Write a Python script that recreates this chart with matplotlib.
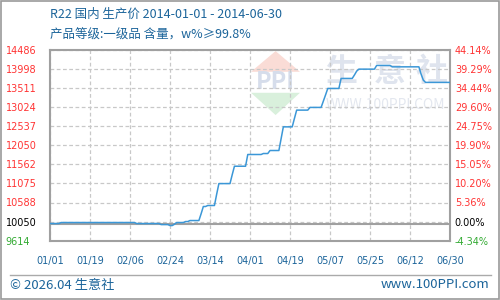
import matplotlib
matplotlib.use("Agg")
import matplotlib.pyplot as plt
import matplotlib.dates as mdates
import numpy as np
from matplotlib.patches import Polygon, Rectangle
from matplotlib.lines import Line2D

# ---------------- data ----------------
dates = ["2014-01-01", "2014-01-05", "2014-01-06", "2014-02-08", "2014-02-09",
         "2014-02-19", "2014-02-20", "2014-02-23", "2014-02-24", "2014-02-25",
         "2014-02-26", "2014-02-27", "2014-03-02", "2014-03-03", "2014-03-04",
         "2014-03-05", "2014-03-09", "2014-03-10", "2014-03-11", "2014-03-12",
         "2014-03-13", "2014-03-16", "2014-03-17", "2014-03-18", "2014-03-23",
         "2014-03-24", "2014-03-25", "2014-03-30", "2014-03-31", "2014-04-06",
         "2014-04-07", "2014-04-09", "2014-04-10", "2014-04-14", "2014-04-15",
         "2014-04-16", "2014-04-20", "2014-04-21", "2014-04-22", "2014-04-27",
         "2014-04-28", "2014-05-03", "2014-05-04", "2014-05-05", "2014-05-06",
         "2014-05-11", "2014-05-12", "2014-05-17", "2014-05-18", "2014-05-19",
         "2014-05-20", "2014-05-27", "2014-05-28", "2014-06-03", "2014-06-04",
         "2014-06-16", "2014-06-17", "2014-06-18", "2014-06-19", "2014-06-30"]
prices = [10050, 10050, 10076, 10076, 10050,
          10050, 10024, 10024, 9999, 9999,
          10032, 10076, 10076, 10101, 10101,
          10127, 10127, 10300, 10486, 10486,
          10512, 10512, 10800, 11072, 11072,
          11300, 11516, 11516, 11816, 11816,
          11841, 11841, 11918, 11918, 12220,
          12523, 12523, 12740, 12951, 12951,
          13020, 13020, 13180, 13340, 13505,
          13505, 13761, 13761, 13850, 13948,
          13999, 13999, 14094, 14094, 14058,
          14058, 13870, 13717, 13660, 13660]

base_price = 10050
y_min, y_max = 9614, 14486
price_labels = ["9614", "10050", "10588", "11075", "11562", "12050",
                "12537", "13024", "13511", "13998", "14486"]
pct_labels = ["-4.34%", "0.00%", "5.36%", "10.20%", "15.05%", "19.90%",
              "24.75%", "29.60%", "34.44%", "39.29%", "44.14%"]
x_tick_labels = ["01/01", "01/19", "02/06", "02/24", "03/14", "04/01",
                 "04/19", "05/07", "05/25", "06/12", "06/30"]
x_start, x_end = "2014-01-01", "2014-06-30"

title1 = "R22 国内 生产价 2014-01-01 - 2014-06-30"
title2 = "产品等级:一级品 含量，w%≥99.8%"
footer_left = "© 2026.04 生意社"
footer_right = "www.100PPI.com"

# ---------------- style ----------------
CJK = ["Noto Sans CJK SC", "DejaVu Sans"]
blue_text = "#1b649a"
line_color = "#3b97d7"
grid_color = "#c8c8c8"
spine_color = "#a0a0a0"

fig = plt.figure(figsize=(5, 3), dpi=100)
fig.patch.set_facecolor("white")
ax = fig.add_axes([0.1, 0.198, 0.8, 0.635])

x = mdates.date2num(np.array(dates, dtype="datetime64[D]"))
x0 = mdates.date2num(np.datetime64(x_start))
x1 = mdates.date2num(np.datetime64(x_end))

# watermark (decoration, axes coordinates)
wm_kw = dict(transform=ax.transAxes, clip_on=True, zorder=0)
ax.add_patch(Polygon([[0.5025, 0.886], [0.625, 0.886], [0.564, 0.995]],
                     closed=True, facecolor="#fadcd6", edgecolor="none", **wm_kw))
ax.add_patch(Polygon([[0.5025, 0.776], [0.625, 0.776], [0.564, 0.659]],
                     closed=True, facecolor="#d9f0dc", edgecolor="none", **wm_kw))
ax.text(0.564, 0.835, "PPI", ha="center", va="center", fontsize=17,
        fontweight="bold", color="#d6ddeb", family=CJK, clip_box=ax.bbox, **wm_kw)
for cx, ch in zip([0.728, 0.85, 0.955], ["生", "意", "社"]):
    ax.text(cx, 0.885, ch, ha="center", va="center", fontsize=23,
            fontweight="bold", color="#dfe4ee", family=CJK, clip_box=ax.bbox, **wm_kw)
ax.text(0.69, 0.713, "WWW.100PPI.COM", ha="left", va="center", fontsize=10,
        color="#e3e7ef", family=CJK, clip_box=ax.bbox, **wm_kw)

# grid
ytick_pos = np.linspace(y_min, y_max, len(price_labels))
xtick_pos = np.linspace(x0, x1, len(x_tick_labels))
ax.set_xlim(x0, x1)
ax.set_ylim(y_min, y_max)
ax.set_xticks(xtick_pos)
ax.set_xticklabels(x_tick_labels)
ax.set_yticks(ytick_pos)
ax.set_yticklabels(price_labels)
ax.grid(True, color=grid_color, ls=(0, (3, 2)), lw=0.9, zorder=1)
ax.set_axisbelow(True)
ax.patch.set_alpha(0)

# base line & data
ax.axhline(base_price, color=spine_color, lw=1.5, zorder=2)
ax.plot(x, prices, color=line_color, lw=1.1, zorder=3)

for s in ax.spines.values():
    s.set_color(spine_color)
    s.set_linewidth(1.5)

ax.tick_params(axis="both", length=0)
ax.tick_params(axis="x", pad=11, labelsize=7, labelcolor=blue_text)
ax.tick_params(axis="y", pad=32, labelsize=7)

def label_color(i):
    if i == 0:
        return "#33aa33"
    if i == 1:
        return "#000000"
    return "#ff3333"

for i, lab in enumerate(ax.get_yticklabels()):
    lab.set_ha("left")
    lab.set_color(label_color(i))

ax2 = ax.twinx()
ax2.set_ylim(y_min, y_max)
ax2.set_yticks(ytick_pos)
ax2.set_yticklabels(pct_labels)
ax2.tick_params(axis="y", length=0, pad=3.5, labelsize=7)
for s in ax2.spines.values():
    s.set_visible(False)
for i, lab in enumerate(ax2.get_yticklabels()):
    lab.set_color(label_color(i))

# titles
fig.text(0.1, 1 - 14 / 300, title1, ha="left", va="center", fontsize=9,
         color=blue_text, family=CJK)
fig.text(0.1, 1 - 35 / 300, title2, ha="left", va="center", fontsize=9,
         color=blue_text, family=CJK)

# footer
fig.add_artist(Line2D([0.02, 0.982], [1 - 275 / 300] * 2, color="#aaaaaa",
                      lw=1.0, transform=fig.transFigure))
fig.text(0.02, 1 - 285 / 300, footer_left, ha="left", va="center",
         fontsize=9.5, color=blue_text, family=CJK)
fig.text(0.978, 1 - 285 / 300, footer_right, ha="right", va="center",
         fontsize=9.5, color=blue_text, family=CJK)

fig.add_artist(Rectangle((0.001, 0.002), 0.997, 0.995, fill=False,
                         edgecolor="#999999", lw=1.2, transform=fig.transFigure))

fig.savefig("out.png", dpi=100)
